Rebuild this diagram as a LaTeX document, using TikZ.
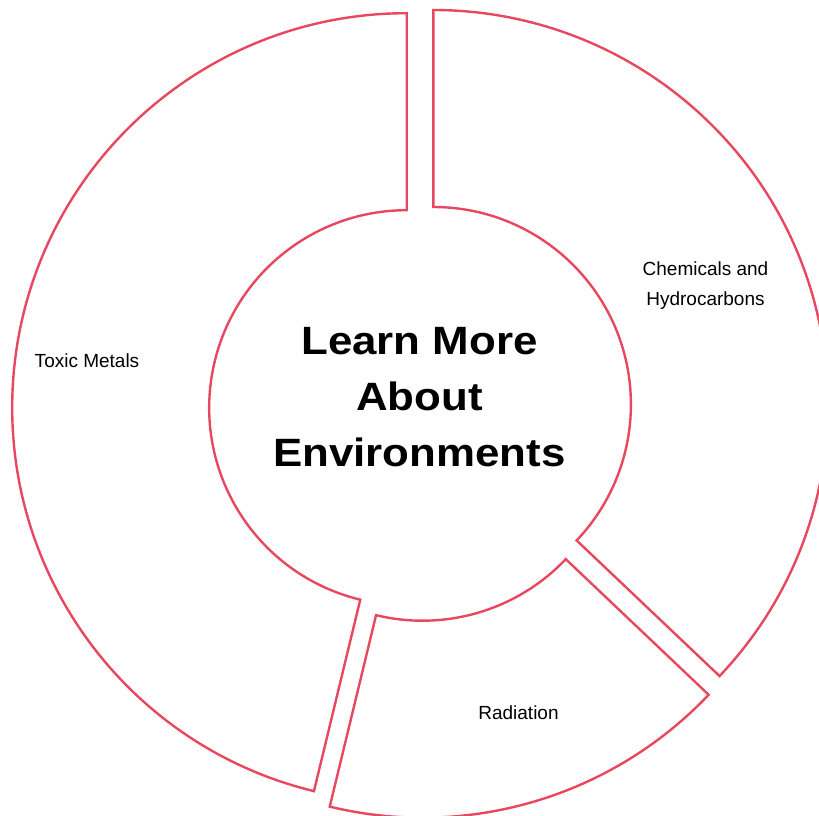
\documentclass[tikz,border=0pt]{standalone}
\usepackage{fontspec}
\setmainfont{Liberation Sans}
\newfontfamily\titlefont{Liberation Sans}[FakeStretch=1.11]
\definecolor{segred}{RGB}{232,72,95}
\begin{document}
\begin{tikzpicture}[
  seg/.style={draw=segred, line width=2.4pt, line join=miter},
  lbl/.style={font=\fontsize{19}{30}\selectfont, text=black, inner sep=0pt},
  ttl/.style={font=\titlefont\bfseries\fontsize{39.5}{56}\selectfont, align=center, inner sep=0pt, text=black}
]
\useasboundingbox (0pt,0pt) rectangle (819pt,-816pt);
\clip (0pt,0pt) rectangle (819pt,-816pt);
\def\ri{197.5pt}
\def\ro{394.5pt}
% Toxic Metals
\draw[seg, shift={(406.7pt,-407.7pt)}] (90:\ri) -- (90:\ro)
  arc[start angle=90, end angle=256.4, radius=\ro] -- (256.4:\ri)
  arc[start angle=256.4, end angle=90, radius=\ri] -- cycle;
% Chemicals and Hydrocarbons
\draw[seg, shift={(433.4pt,-404.5pt)}] (-43.5:\ri) -- (-43.5:\ro)
  arc[start angle=-43.5, end angle=90, radius=\ro] -- (90:\ri)
  arc[start angle=90, end angle=-43.5, radius=\ri] -- cycle;
% Radiation
\draw[seg, shift={(422.5pt,-423.2pt)}] (256.4:\ri) -- (256.4:\ro)
  arc[start angle=256.4, end angle=316.5, radius=\ro] -- (316.5:\ri)
  arc[start angle=316.5, end angle=256.4, radius=\ri] -- cycle;
% labels
\node[lbl, anchor=base] (toxic) at (87pt,-367pt) {Toxic Metals};
\node[lbl, anchor=center, align=center] (chem) at (705.5pt,-286pt) {Chemicals and\\Hydrocarbons};
\node[lbl, anchor=base] (rad) at (518.5pt,-719pt) {Radiation};
\node[ttl, anchor=center] (title) at (419.5pt,-397pt) {Learn More\\About\\Environments};
\end{tikzpicture}
\end{document}
